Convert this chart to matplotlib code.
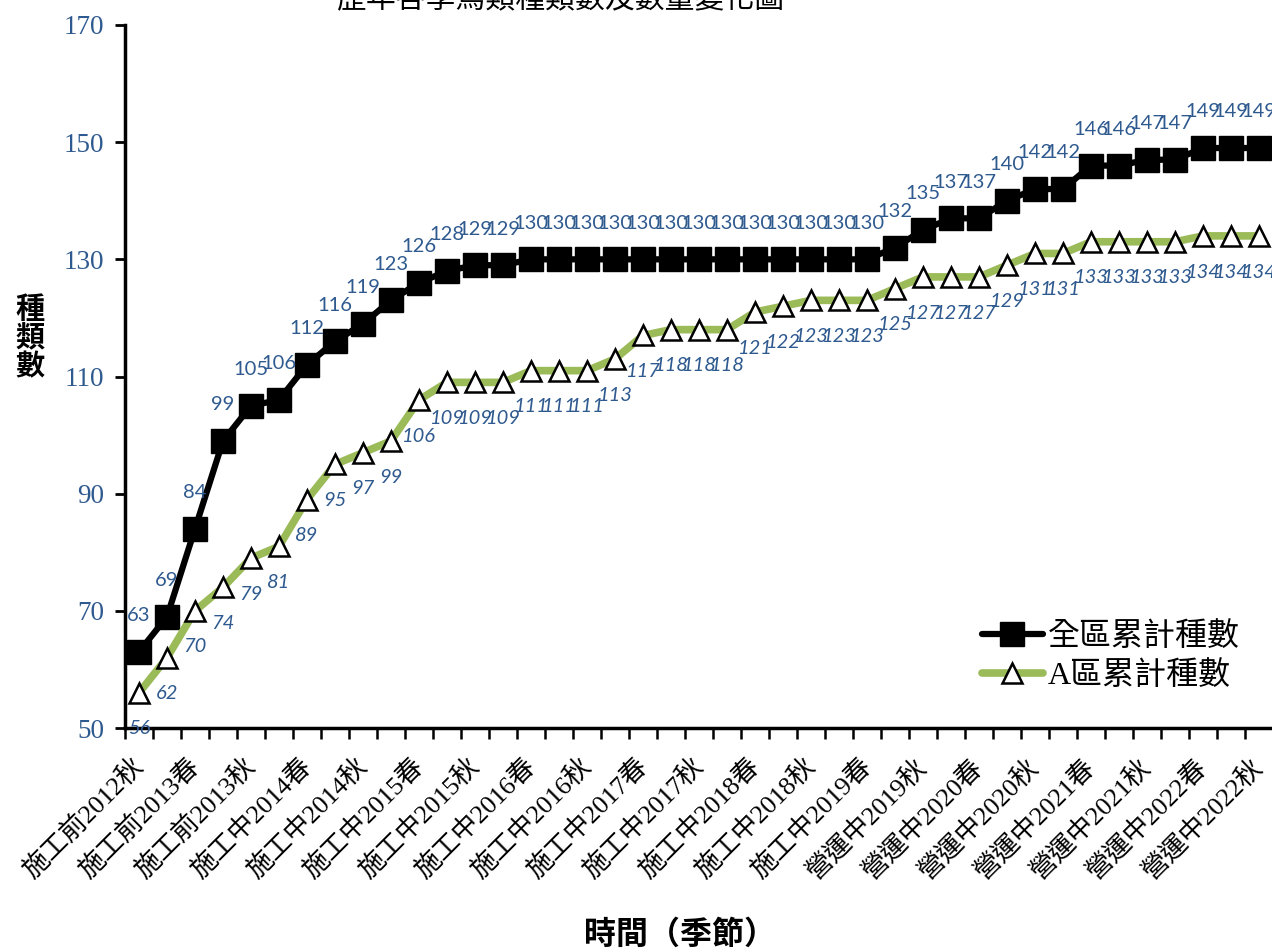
import matplotlib
matplotlib.use('Agg')
import matplotlib.pyplot as plt
import numpy as np

periods = [
    '施工前2012秋', '施工前2012冬', '施工前2013春', '施工前2013夏', '施工前2013秋', '施工前2013冬',
    '施工中2014春', '施工中2014夏', '施工中2014秋', '施工中2014冬',
    '施工中2015春', '施工中2015夏', '施工中2015秋', '施工中2015冬',
    '施工中2016春', '施工中2016夏', '施工中2016秋', '施工中2016冬',
    '施工中2017春', '施工中2017夏', '施工中2017秋', '施工中2017冬',
    '施工中2018春', '施工中2018夏', '施工中2018秋', '施工中2018冬',
    '施工中2019春', '施工中2019夏', '營運中2019秋', '營運中2019冬',
    '營運中2020春', '營運中2020夏', '營運中2020秋', '營運中2020冬',
    '營運中2021春', '營運中2021夏', '營運中2021秋', '營運中2021冬',
    '營運中2022春', '營運中2022夏', '營運中2022秋',
]

total_species = [63, 69, 84, 99, 105, 106, 112, 116, 119, 123, 126, 128, 129, 129,
                 130, 130, 130, 130, 130, 130, 130, 130, 130, 130, 130, 130, 130,
                 132, 135, 137, 137, 140, 142, 142, 146, 146, 147, 147, 149, 149, 149]

area_a_species = [56, 62, 70, 74, 79, 81, 89, 95, 97, 99, 106, 109, 109, 109,
                  111, 111, 111, 113, 117, 118, 118, 118, 121, 122, 123, 123, 123,
                  125, 127, 127, 127, 129, 131, 131, 133, 133, 133, 133, 134, 134, 134]

series_names = ['全區累計種數', 'A區累計種數']
title_text = '歷年各季鳥類種類數及數量變化圖'
xlabel_text = '時間（季節）'
ylabel_text = '種\n類\n數'
y_ticks = [50, 70, 90, 110, 130, 150, 170]

label_blue = '#2F5A8F'
green = '#9BBB59'
serif_cjk = ['Liberation Serif', 'Noto Sans CJK TC']
sans_num = ['Lato', 'DejaVu Sans']

W, H = 1272, 950
fig = plt.figure(figsize=(W / 100, H / 100), dpi=100)
ax = fig.add_axes([125 / W, 1 - 728 / H, (1273 - 125) / W, (728 - 25) / H])

x = np.arange(len(periods))

ax.plot(x, total_species, color='black', lw=4.5, marker='s', markersize=17,
        markerfacecolor='black', markeredgecolor='black', label=series_names[0],
        zorder=3, solid_capstyle='round')
ax.plot(x, area_a_species, color=green, lw=5.5, marker='^', markersize=15,
        markerfacecolor='white', markeredgecolor='black', markeredgewidth=1.8,
        label=series_names[1], zorder=3, solid_capstyle='round')

for xi, v in zip(x, total_species):
    ax.annotate(str(v), (xi, v), xytext=(0, 26), textcoords='offset points',
                ha='center', va='center', fontsize=14.5, color=label_blue,
                family=sans_num, annotation_clip=False, zorder=4)
for xi, v in zip(x, area_a_species):
    ax.annotate(str(v), (xi, v), xytext=(0, -26), textcoords='offset points',
                ha='center', va='center', fontsize=14.5, color=label_blue,
                family=sans_num, style='italic', annotation_clip=False, zorder=4)

ax.set_xlim(-0.5, len(periods) - 0.5)
ax.set_ylim(50, 170)
ax.set_yticks(y_ticks)
ax.set_yticklabels([str(t) for t in y_ticks], family=['Liberation Serif'],
                   fontsize=19.5, color=label_blue)
ax.tick_params(axis='y', which='major', direction='out', length=7, width=2, pad=8)

ax.set_xticks(np.arange(-0.5, len(periods), 1.0))
ax.set_xticklabels([])
ax.tick_params(axis='x', which='major', direction='out', length=8, width=1.8)
ax.set_xticks(x[::2], minor=True)
ax.set_xticklabels(periods[::2], minor=True, rotation=45, ha='right', va='center',
                   rotation_mode='anchor', family=serif_cjk, fontsize=19)
ax.tick_params(axis='x', which='minor', length=0, pad=25)

for s in ['top', 'right']:
    ax.spines[s].set_visible(False)
for s in ['left', 'bottom']:
    ax.spines[s].set_linewidth(2.5)

fig.text(561 / W, 1 - 14 / H, title_text, ha='center', va='bottom',
         family=serif_cjk, fontsize=21.5)
fig.text(30 / W, 1 - 338 / H, ylabel_text, ha='center', va='center',
         family=['Noto Sans CJK TC'], fontsize=21, fontweight='bold', linespacing=0.95)
fig.text(680 / W, 1 - 935 / H, xlabel_text, ha='center', va='center',
         family=['Noto Sans CJK TC'], fontsize=23, fontweight='bold')

leg = ax.legend(loc='upper left', bbox_to_anchor=(966 / W, 1 - 606 / H),
                bbox_transform=fig.transFigure, frameon=False, borderpad=0,
                handlelength=1.9, handletextpad=0.15, labelspacing=0.3,
                prop={'family': serif_cjk, 'size': 23})

fig.savefig('out.png', dpi=100)
